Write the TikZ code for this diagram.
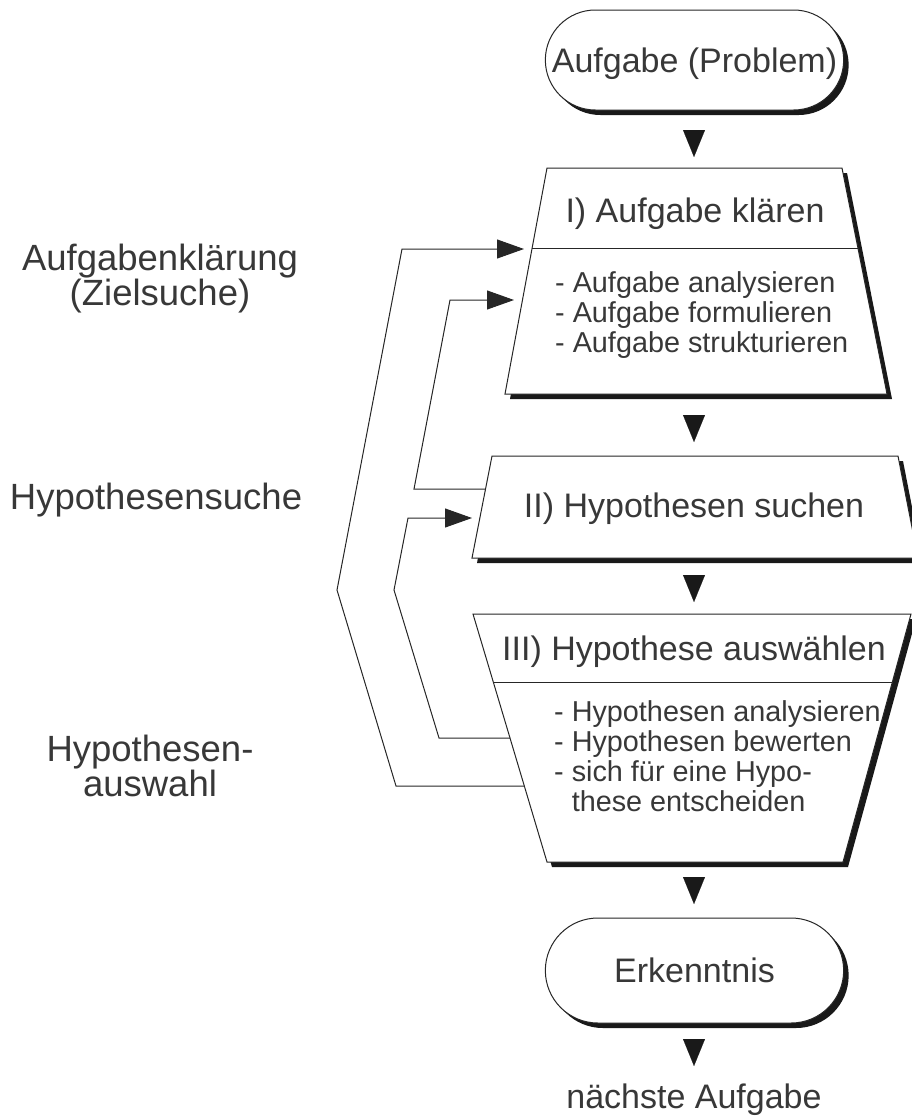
\documentclass[tikz,border=0pt]{standalone}
\usepackage{fontspec}
\setmainfont{Liberation Sans}
\usetikzlibrary{shapes.misc, shadows, arrows.meta, calc}
\tikzset{every node/.append style={text=black!78, font=\fontsize{34}{40}\selectfont}}

\begin{document}
\begin{tikzpicture}[x=1pt, y=-1pt,
    rand/.style={draw=black!85, line width=1pt},
    schatten/.style={drop shadow={shadow xshift=5pt, shadow yshift=-5pt, opacity=1, fill=black!90}},
    terminal/.style={rounded rectangle, rand, fill=white, schatten, minimum width=305pt,
        text height=24pt, text depth=0pt},
    kasten/.style={rand, fill=white, schatten},
    titel/.style={anchor=base, inner sep=0pt},
    liste/.style={align=left, anchor=north west, inner sep=0pt, font=\fontsize{28.8}{30}\selectfont},
    seite/.style={align=center, inner sep=0pt, font=\fontsize{36.5}{35}\selectfont},
    runter/.style={-{Triangle[length=27pt, width=22pt]}, draw=black!90, line width=0.1pt},
    rueck/.style={-{Triangle[length=27pt, width=19pt]}, draw=black!85, line width=1pt}]
    \useasboundingbox (0,0) rectangle (911,1117);

    % Start und Ende
    \node[terminal, minimum height=100pt] (start) at (694.5,60) {Aufgabe (Problem)};
    \node[terminal, minimum height=105pt] (erk) at (694.5,970.5) {Erkenntnis};
    \node[titel] (naechste) at (694,1108) {nächste Aufgabe};

    % I) Aufgabe klaeren
    \coordinate (k1a) at (547,168);
    \coordinate (k1b) at (842,168);
    \coordinate (k1c) at (887,394);
    \coordinate (k1d) at (505,394);
    \draw[kasten] (k1a) -- (k1b) -- (k1c) -- (k1d) -- cycle;
    \coordinate (k1l) at ($(k1a)!0.358!(k1d)$);
    \coordinate (k1r) at ($(k1b)!0.358!(k1c)$);
    \draw[rand] (k1l) -- (k1r);
    \node[titel] (t1) at (695,222) {I) Aufgabe klären};
    \node[liste] (l1) at (555,271) {- Aufgabe analysieren\\- Aufgabe formulieren\\- Aufgabe strukturieren};

    % II) Hypothesen suchen
    \coordinate (k2a) at (492,456);
    \coordinate (k2b) at (898,456);
    \coordinate (k2c) at (918,558);
    \coordinate (k2d) at (472,558);
    \draw[kasten] (k2a) -- (k2b) -- (k2c) -- (k2d) -- cycle;
    \node[titel] (t2) at (694,517) {II) Hypothesen suchen};

    % III) Hypothese auswaehlen
    \coordinate (k3a) at (473,614);
    \coordinate (k3b) at (911,614);
    \coordinate (k3c) at (843,862);
    \coordinate (k3d) at (547,862);
    \draw[kasten] (k3a) -- (k3b) -- (k3c) -- (k3d) -- cycle;
    \coordinate (k3l) at ($(k3a)!0.278!(k3d)$);
    \coordinate (k3r) at ($(k3b)!0.278!(k3c)$);
    \draw[rand] (k3l) -- (k3r);
    \node[titel] (t3) at (694,660) {III) Hypothese auswählen};
    \node[liste] (l3) at (554,700) {- Hypothesen analysieren\\- Hypothesen bewerten\\- sich für eine Hypo-\\\phantom{- }these entscheiden};

    % Pfeile nach unten
    \coordinate (p1) at (694,130);
    \coordinate (p2) at (694,415);
    \coordinate (p3) at (694,575);
    \coordinate (p4) at (694,877);
    \coordinate (p5) at (694,1039);
    \foreach \p in {p1,p2,p3,p4,p5}
        \draw[runter] (\p) -- ++(0,27);

    % Rueckspruenge
    \coordinate (ein1a) at (524,249);
    \coordinate (ein1b) at (514,300);
    \coordinate (ein2) at (472,518);
    \coordinate (aus2) at ($(k2a)!0.324!(k2d)$);
    \coordinate (aus3a) at ($(k3a)!0.5!(k3d)$);
    \coordinate (aus3b) at ($(k3a)!0.694!(k3d)$);
    \draw[rueck] (aus2) -- (414,489) -- (450,300) -- (ein1b);
    \draw[rueck] (aus3a) -- (439,738) -- (394,590) -- (408,518) -- (ein2);
    \draw[rueck] (aus3b) -- (396,786) -- (337,590) -- (402,249) -- (ein1a);

    % Phasen links
    \node[seite] (ph1) at (160,279) {Aufgabenklärung\\(Zielsuche)};
    \node[seite] (ph2) at (156,500) {Hypothesensuche};
    \node[seite] (ph3) at (150,766) {Hypothesen-\\auswahl};
\end{tikzpicture}
\end{document}
